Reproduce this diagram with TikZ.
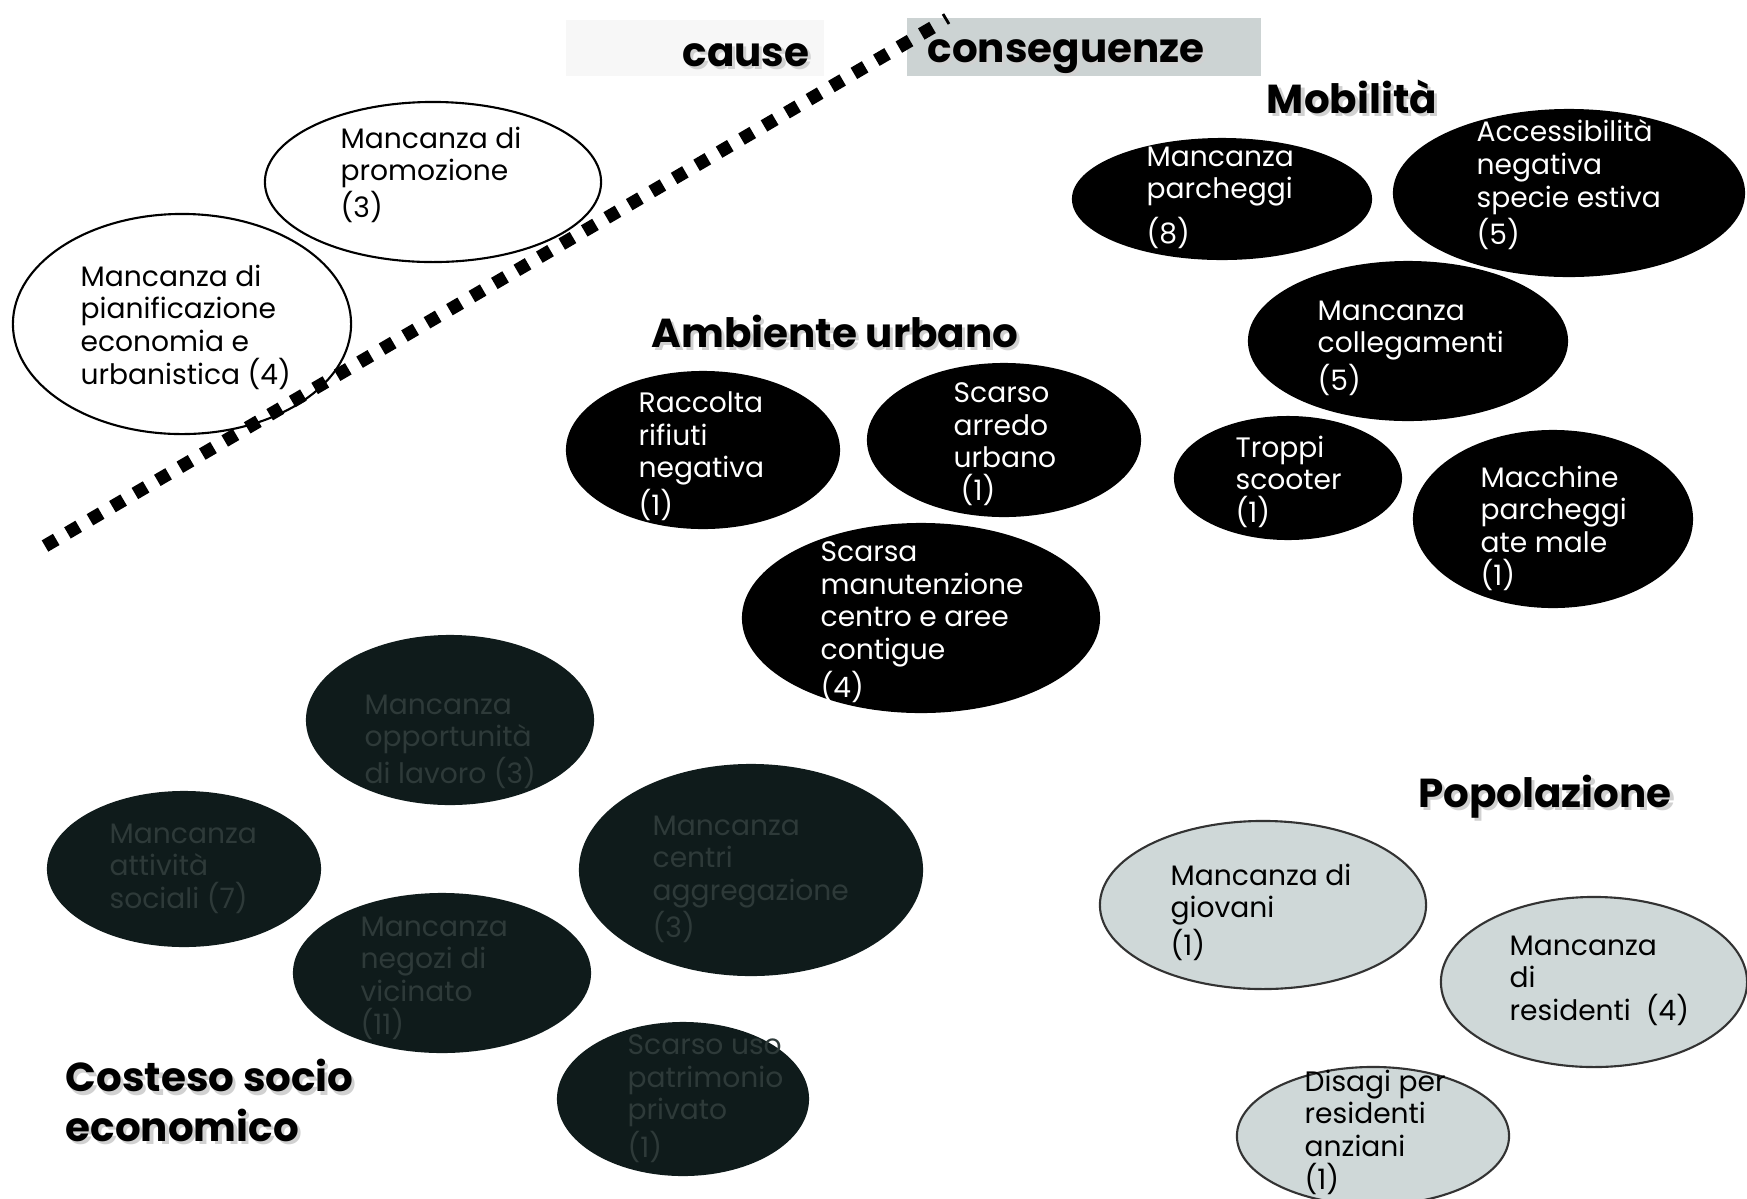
\documentclass[tikz,border=0pt]{standalone}
\usepackage{fontspec}
\setmainfont{Poppins}
\usetikzlibrary{shapes.geometric}
\definecolor{darkfill}{HTML}{0F1B1B}
\definecolor{popfill}{HTML}{CFD8D8}
\definecolor{consfill}{HTML}{CCD3D3}
\definecolor{causefill}{HTML}{F7F7F7}
\definecolor{engrave}{HTML}{2E3A39}
\newcommand\shtxt[1]{\leavevmode\rlap{\kern0.9pt\lower0.9pt\hbox{\color{black!18}#1}}#1}
\begin{document}
\begin{tikzpicture}[x=0.01cm,y=-0.01cm,
  ell/.style={ellipse, inner sep=0pt},
  causeell/.style={ell, draw=black, line width=0.6pt, fill=white},
  blackell/.style={ell, fill=black},
  darkell/.style={ell, fill=darkfill},
  popell/.style={ell, draw=black!80, line width=0.6pt, fill=popfill},
  txt/.style={anchor=north west, inner sep=0pt, align=left, font=\fontsize{8}{9.3}\selectfont},
  wtxt/.style={txt, text=white},
  dtxt/.style={txt, text=engrave},
  ktxt/.style={txt, text=black},
  title/.style={inner sep=0pt, font=\bfseries\fontsize{11.5}{14}\selectfont},
  divider/.style={line width=3.7pt, dash pattern=on 3.7pt off 3.7pt},
]
\useasboundingbox (0,0) rectangle (1747,1199);
\fill[white] (0,0) rectangle (1747,1199);

% header boxes
\node[fill=causefill, minimum width=2.58cm, minimum height=0.56cm, inner sep=0pt] (causebox) at (695,48) {};
\node[fill=consfill, minimum width=3.53cm, minimum height=0.58cm, inner sep=0pt] (consbox) at (1084,47) {};
\node[title] (cause) at (746,57) {\shtxt{cause}};
\node[title] (cons) at (1066,58) {\shtxt{conseguenze}};

% cause ellipses
\node[causeell, minimum width=3.36cm, minimum height=1.60cm] (promo) at (433,182) {};
\node[ktxt] (promot) at (340,126) {Mancanza di\\promozione\\(3)};
\node[causeell, minimum width=3.38cm, minimum height=2.20cm] (piani) at (182,324) {};
\node[ktxt] (pianit) at (80,264) {Mancanza di\\pianificazione\\economia e\\urbanistica (4)};

% divider
\coordinate (dA) at (45,546);
\coordinate (dB) at (935,26);
\coordinate (dC) at (943,14);
\coordinate (dD) at (949,24);
\draw[divider] (dA) -- (dB);
\draw[line width=0.8pt] (dC) -- (dD);

% Ambiente urbano
\node[title] (amb) at (835,333) {\shtxt{Ambiente urbano}};
\node[blackell, minimum width=2.74cm, minimum height=1.58cm] (racc) at (703,450) {};
\node[wtxt] (racct) at (638,391) {Raccolta\\rifiuti\\negativa\\(1)};
\node[blackell, minimum width=2.74cm, minimum height=1.54cm] (arredo) at (1004,440) {};
\node[wtxt] (arredot) at (953,382) {Scarso\\arredo\\urbano\\\hspace*{2pt}(1)};
\node[blackell, minimum width=3.58cm, minimum height=1.90cm] (manut) at (921,618) {};
\node[wtxt] (manutt) at (820,541) {Scarsa\\manutenzione\\centro e aree\\contigue\\(4)};

% Mobilita
\node[title] (mob) at (1352,98) {\shtxt{Mobilità}};
\node[blackell, minimum width=3.00cm, minimum height=1.22cm] (parch) at (1222,199) {};
\node[wtxt] (parcht) at (1146,146) {Mancanza\\parcheggi\\[2pt](8)};
\node[blackell, minimum width=3.52cm, minimum height=1.68cm] (access) at (1569,193) {};
\node[wtxt] (accesst) at (1476,119) {Accessibilità\\negativa\\specie estiva\\(5)};
\node[blackell, minimum width=3.20cm, minimum height=1.60cm] (colleg) at (1408,341) {};
\node[wtxt] (collegt) at (1317,300) {Mancanza\\collegamenti\\(5)};
\node[blackell, minimum width=2.28cm, minimum height=1.24cm] (scoot) at (1288,478) {};
\node[wtxt] (scoott) at (1235,435) {Troppi\\scooter\\(1)};
\node[blackell, minimum width=2.80cm, minimum height=1.78cm] (macch) at (1553,519) {};
\node[wtxt] (macchtt) at (1480,465) {Macchine\\parcheggi\\ate male\\(1)};

% Contesto socio economico
\node[darkell, minimum width=2.88cm, minimum height=1.70cm] (lavoro) at (450,720) {};
\node[dtxt] (lavorot) at (364,694) {Mancanza\\opportunità\\di lavoro (3)};
\node[darkell, minimum width=2.74cm, minimum height=1.56cm] (sociali) at (184,869) {};
\node[dtxt] (socialit) at (109,823) {Mancanza\\attività\\sociali (7)};
\node[darkell, minimum width=3.44cm, minimum height=2.12cm] (aggreg) at (751,870) {};
\node[dtxt] (aggregt) at (652,815) {Mancanza\\centri\\aggregazione\\(3)};
\node[darkell, minimum width=2.98cm, minimum height=1.60cm] (negozi) at (442,973) {};
\node[dtxt] (negozit) at (360,916) {Mancanza\\negozi di\\vicinato\\(11)};
\node[darkell, minimum width=2.52cm, minimum height=1.54cm] (patrim) at (683,1099) {};
\node[dtxt] (patrimt) at (627,1034) {Scarso uso\\patrimonio\\privato\\(1)};
\node[title, anchor=west, align=left] (cse) at (65,1102) {\shtxt{Costeso socio}\\\shtxt{economico}};

% Popolazione
\node[title] (pop) at (1545,798) {\shtxt{Popolazione}};
\node[popell, minimum width=3.26cm, minimum height=1.68cm] (giovani) at (1263,905) {};
\node[ktxt] (giovanit) at (1170,863) {Mancanza di\\giovani\\(1)};
\node[popell, minimum width=3.06cm, minimum height=1.70cm] (resid) at (1594,982) {};
\node[ktxt] (residt) at (1509,935) {Mancanza\\di\\residenti~~(4)};
\node[popell, minimum width=2.72cm, minimum height=1.38cm] (anziani) at (1373,1136) {};
\node[ktxt] (anzianit) at (1304,1069) {Disagi per\\residenti\\anziani\\(1)};
\end{tikzpicture}
\end{document}
